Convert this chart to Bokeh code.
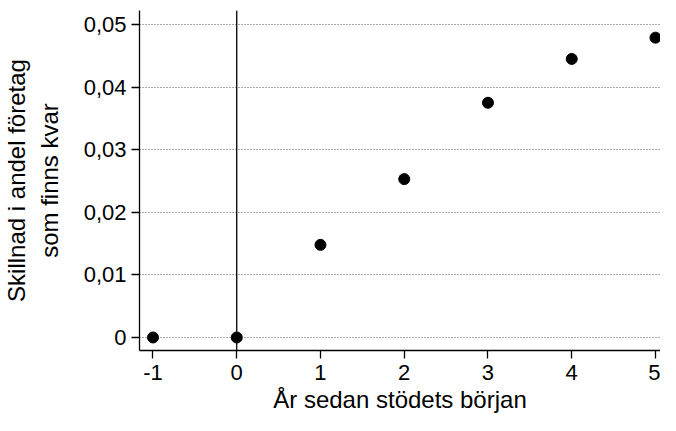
from bokeh.plotting import figure
from bokeh.models import ColumnDataSource, FixedTicker, Span, Range1d
from bokeh.embed import file_html
from bokeh.resources import INLINE

years = [-1, 0, 1, 2, 3, 4, 5]
diff = [0.0, 0.0, 0.0148, 0.0253, 0.0375, 0.0445, 0.0479]
y_ticks = [0.0, 0.01, 0.02, 0.03, 0.04, 0.05]
y_tick_labels = ["0", "0,01", "0,02", "0,03", "0,04", "0,05"]
x_ticks = [-1, 0, 1, 2, 3, 4, 5]
x_tick_labels = ["-1", "0", "1", "2", "3", "4", "5"]
x_title = "År sedan stödets början"
y_title = "Skillnad i andel företag\nsom finns kvar"

FONT = "Liberation Sans"

p = figure(width=660, height=415, output_backend="svg", toolbar_location=None,
           x_range=Range1d(-1.161, 5.06), y_range=Range1d(-0.00208, 0.05224),
           min_border_left=134, min_border_right=0, min_border_top=10, min_border_bottom=0)
p.outline_line_color = None
p.background_fill_color = "white"
p.border_fill_color = "white"

p.xgrid.visible = False
p.ygrid.ticker = FixedTicker(ticks=y_ticks)
p.ygrid.grid_line_color = "#555555"
p.ygrid.grid_line_dash = "1 2"
p.ygrid.grid_line_width = 1

src = ColumnDataSource(dict(x=years, y=diff))
vline = Span(location=0, dimension="height", line_color="black", line_width=1.3)
p.add_layout(vline)
p.scatter("x", "y", source=src, size=11, fill_color="black", line_color="black")

for ax in (p.xaxis[0], p.yaxis[0]):
    ax.axis_line_color = "black"
    ax.axis_line_width = 1.3
    ax.major_tick_line_color = "black"
    ax.major_tick_line_width = 1.3
    ax.major_tick_out = 8
    ax.major_tick_in = 0
    ax.minor_tick_line_color = None
    ax.major_label_text_font = FONT
    ax.major_label_text_font_size = "22px"
    ax.major_label_text_color = "black"
    ax.axis_label_text_font = FONT
    ax.axis_label_text_font_size = "24px"
    ax.axis_label_text_font_style = "normal"
    ax.axis_label_text_color = "black"

p.xaxis.ticker = FixedTicker(ticks=x_ticks)
p.xaxis.major_label_overrides = {t: l for t, l in zip(x_ticks, x_tick_labels)}
p.xaxis.axis_label = x_title
p.xaxis.major_label_standoff = 6
p.xaxis.axis_label_standoff = 3

p.yaxis.ticker = FixedTicker(ticks=y_ticks)
p.yaxis.major_label_overrides = {t: l for t, l in zip(y_ticks, y_tick_labels)}
p.yaxis.major_label_standoff = 5
p.yaxis.axis_label = y_title
p.yaxis.axis_label_standoff = 18

open("out.html", "w").write(file_html(p, INLINE))
